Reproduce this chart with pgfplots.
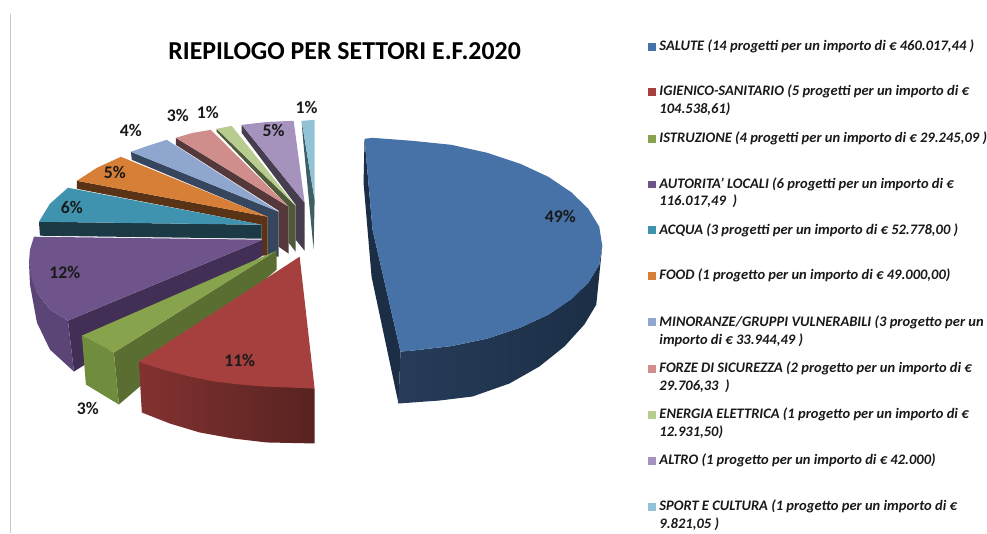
\documentclass[border=0pt]{standalone}
\usepackage{fontspec}
\setmainfont{Carlito}
\usepackage{pgfplots}
\pgfplotsset{compat=1.18}

\definecolor{saluteT}{RGB}{70,114,168}
\definecolor{saluteS}{RGB}{27,46,70}
\definecolor{saluteL}{RGB}{38,60,88}
\definecolor{igieneT}{RGB}{165,64,62}
\definecolor{igieneL}{RGB}{130,50,48}
\definecolor{igieneR}{RGB}{88,35,33}
\definecolor{istrT}{RGB}{135,163,76}
\definecolor{istrF}{RGB}{112,140,61}
\definecolor{istrS}{RGB}{91,110,49}
\definecolor{autT}{RGB}{110,84,138}
\definecolor{autF}{RGB}{90,69,118}
\definecolor{autS}{RGB}{65,47,85}
\definecolor{acquaT}{RGB}{63,147,174}
\definecolor{acquaS}{RGB}{27,58,70}
\definecolor{foodT}{RGB}{216,127,55}
\definecolor{foodS}{RGB}{90,51,22}
\definecolor{minT}{RGB}{143,166,207}
\definecolor{minS}{RGB}{55,70,95}
\definecolor{forzeT}{RGB}{207,141,139}
\definecolor{forzeS}{RGB}{85,56,58}
\definecolor{enT}{RGB}{185,204,143}
\definecolor{enS}{RGB}{78,90,57}
\definecolor{altroT}{RGB}{165,147,189}
\definecolor{altroS}{RGB}{70,62,78}
\definecolor{sportT}{RGB}{145,194,214}
\definecolor{sportS}{RGB}{62,94,102}

\tikzset{
	lbl/.style={font=\fontsize{13.3pt}{15pt}\selectfont\bfseries, text=black!90, inner sep=0pt},
	leg/.style={font=\fontsize{10.9pt}{13pt}\selectfont\bfseries\itshape, text=black!90, anchor=base west, inner sep=0pt},
}

\begin{document}
\begin{tikzpicture}
\begin{axis}[
	scale only axis,
	width=740.25pt, height=400.5pt,
	xmin=0, xmax=987, ymin=0, ymax=534,
	y dir=reverse,
	hide axis,
	clip=false,
]
% keep the whole page in the picture
\path (axis cs:0,0) rectangle (axis cs:987,534);
% frame line on the left
\addplot[draw=black!22, line width=0.75pt] coordinates {(10.5,14) (10.5,534)};

% sport e cultura
\addplot[fill=sportS, draw=none] coordinates {(302,121) (303,135) (314,250) (315,200)} --cycle;
\addplot[fill=sportT, draw=none] coordinates {(302,121) (315,120) (315,200)} --cycle;
% altro
\addplot[fill=altroS, draw=none] coordinates {(242,125) (242,133) (296,205) (296,240) (305,251) (305,203)} --cycle;
\addplot[fill=altroT, draw=none] coordinates {(242,125) (268,122) (294,121) (305,203)} --cycle;
% energia elettrica
\addplot[fill=enS, draw=none] coordinates {(217,129) (217,132) (289,207) (289,243) (296,252) (296,206)} --cycle;
\addplot[fill=enT, draw=none] coordinates {(217,129) (232,126) (296,206)} --cycle;
% forze di sicurezza
\addplot[fill=forzeS, draw=none] coordinates {(176,138) (176,145) (279,211) (279,247) (289,254) (289,207)} --cycle;
\addplot[fill=forzeT, draw=none] coordinates {(176,138) (193,133) (211,130) (289,207)} --cycle;
% minoranze
\addplot[fill=minS, draw=none] coordinates {(131,152) (132,160) (268,217) (268,256) (279,257) (279,212)} --cycle;
\addplot[fill=minT, draw=none] coordinates {(131,152) (148,146) (167,140) (279,212)} --cycle;
% food
\addplot[fill=foodS, draw=none] coordinates {(77,181) (77,189) (262,225) (262,256) (268,256) (268,217)} --cycle;
\addplot[fill=foodT, draw=none] coordinates {(77,181) (97,168) (121,157) (268,217)} --cycle;
% acqua
\addplot[fill=acquaS, draw=none] coordinates {(39,222) (40,236) (262,239) (262,225)} --cycle;
\addplot[fill=acquaT, draw=none] coordinates {(39,222) (50,204) (68,188) (262,225)} --cycle;
% autorita' locali
\addplot[fill=autS, draw=none] coordinates {(263,240) (68,321) (74,372) (82,367) (263,256)} --cycle;
\addplot[fill=autF, draw=none] coordinates {(29,263) (37,293) (50,310) (68,321) (74,372) (50,350) (37,323) (30,285)} --cycle;
\addplot[fill=autT, draw=none] coordinates {(34,237) (30,250) (29,263) (32,280) (37,293) (50,310) (68,321) (263,240)} --cycle;
% istruzione
\addplot[fill=istrS, draw=none] coordinates {(277,251) (114,353) (119,405) (277,270)} --cycle;
\addplot[fill=istrF, draw=none] coordinates {(82,336) (114,353) (119,405) (86,385)} --cycle;
\addplot[fill=istrT, draw=none] coordinates {(277,251) (82,336) (114,353)} --cycle;
% igienico-sanitario
\addplot[left color=igieneL, right color=igieneR, draw=none] coordinates {(139,362) (142,413) (170,424) (200,433) (233,439) (267,443) (315,444) (315,389)} --cycle;
\addplot[fill=igieneT, draw=none] coordinates {(300,257) (139,362) (150,366) (167,371) (190,377) (215,382) (240,385) (265,387) (290,388) (315,389)} --cycle;
% salute
\addplot[fill=saluteS, draw=none] coordinates {(365,139) (364,183) (372,277) (399,404) (401,352) (373,230)} --cycle;
\addplot[left color=saluteL, middle color=saluteS, right color=saluteS, draw=none] coordinates {(401,352) (399,404) (440,401) (473,397) (510,384) (540,367) (565,347) (585,325) (597,305) (603,246) (600,265) (589,283) (572,299.5) (549,315) (521,328) (488,339) (452,346.5) (413,351)} --cycle;
\addplot[fill=saluteT, draw=none] coordinates {(365,139) (373,138) (413,141) (452,145) (488,153) (521,164) (549,177) (572,192.5) (589,209) (600,227) (603,246) (600,265) (589,283) (572,299.5) (549,315) (521,328) (488,339) (452,346.5) (413,351) (401,352) (373,230)} --cycle;

% data labels
\node[lbl] at (axis cs:561,217) {49\%};
\node[lbl] at (axis cs:240,361) {11\%};
\node[lbl] at (axis cs:88,409) {3\%};
\node[lbl] at (axis cs:65,273) {12\%};
\node[lbl] at (axis cs:72,208) {6\%};
\node[lbl] at (axis cs:115,173) {5\%};
\node[lbl] at (axis cs:131,131) {4\%};
\node[lbl] at (axis cs:178,116) {3\%};
\node[lbl] at (axis cs:208,113) {1\%};
\node[lbl] at (axis cs:274,131) {5\%};
\node[lbl] at (axis cs:307,108) {1\%};

% title
\node[font=\fontsize{19.4pt}{21pt}\selectfont\bfseries, text=black, inner sep=0pt] at (axis cs:345,51) {RIEPILOGO PER SETTORI E.F.2020};

% legend swatches
\addplot[only marks, mark=square*, mark size=2.6pt, color=saluteT] coordinates {(652.5,46.5)};
\addplot[only marks, mark=square*, mark size=2.6pt, color=igieneT] coordinates {(652.5,92)};
\addplot[only marks, mark=square*, mark size=2.6pt, color=istrT] coordinates {(652.5,138.5)};
\addplot[only marks, mark=square*, mark size=2.6pt, color=autT] coordinates {(652.5,184.5)};
\addplot[only marks, mark=square*, mark size=2.6pt, color=acquaT] coordinates {(652.5,230.5)};
\addplot[only marks, mark=square*, mark size=2.6pt, color=foodT] coordinates {(652.5,276)};
\addplot[only marks, mark=square*, mark size=2.6pt, color=minT] coordinates {(652.5,322.5)};
\addplot[only marks, mark=square*, mark size=2.6pt, color=forzeT] coordinates {(652.5,369)};
\addplot[only marks, mark=square*, mark size=2.6pt, color=enT] coordinates {(652.5,415)};
\addplot[only marks, mark=square*, mark size=2.6pt, color=altroT] coordinates {(652.5,461)};
\addplot[only marks, mark=square*, mark size=2.6pt, color=sportT] coordinates {(652.5,507)};

% legend text
\node[leg] at (axis cs:660,51) {SALUTE (14 progetti per un importo di € 460.017,44 )};
\node[leg] at (axis cs:660,96) {IGIENICO-SANITARIO (5 progetti per un importo di €};
\node[leg] at (axis cs:660,113.5) {104.538,61)};
\node[leg] at (axis cs:660,143) {ISTRUZIONE (4 progetti per un importo di € 29.245,09 )};
\node[leg] at (axis cs:660,189) {AUTORITA' LOCALI (6 progetti per un importo di €};
\node[leg] at (axis cs:660,206) {116.017,49\ \ )};
\node[leg] at (axis cs:660,235) {ACQUA (3 progetti per un importo di € 52.778,00 )};
\node[leg] at (axis cs:660,280) {FOOD (1 progetto per un importo di € 49.000,00)};
\node[leg] at (axis cs:660,327) {MINORANZE/GRUPPI VULNERABILI (3 progetto per un};
\node[leg] at (axis cs:660,344.5) {importo di € 33.944,49 )};
\node[leg] at (axis cs:660,373) {FORZE DI SICUREZZA (2 progetto per un importo di €};
\node[leg] at (axis cs:660,390.5) {29.706,33\ \ )};
\node[leg] at (axis cs:660,419.5) {ENERGIA ELETTRICA (1 progetto per un importo di €};
\node[leg] at (axis cs:660,437) {12.931,50)};
\node[leg] at (axis cs:660,465.5) {ALTRO (1 progetto per un importo di € 42.000)};
\node[leg] at (axis cs:660,511.5) {SPORT E CULTURA (1 progetto per un importo di €};
\node[leg] at (axis cs:660,529) {9.821,05 )};
\end{axis}
\end{tikzpicture}
\end{document}
